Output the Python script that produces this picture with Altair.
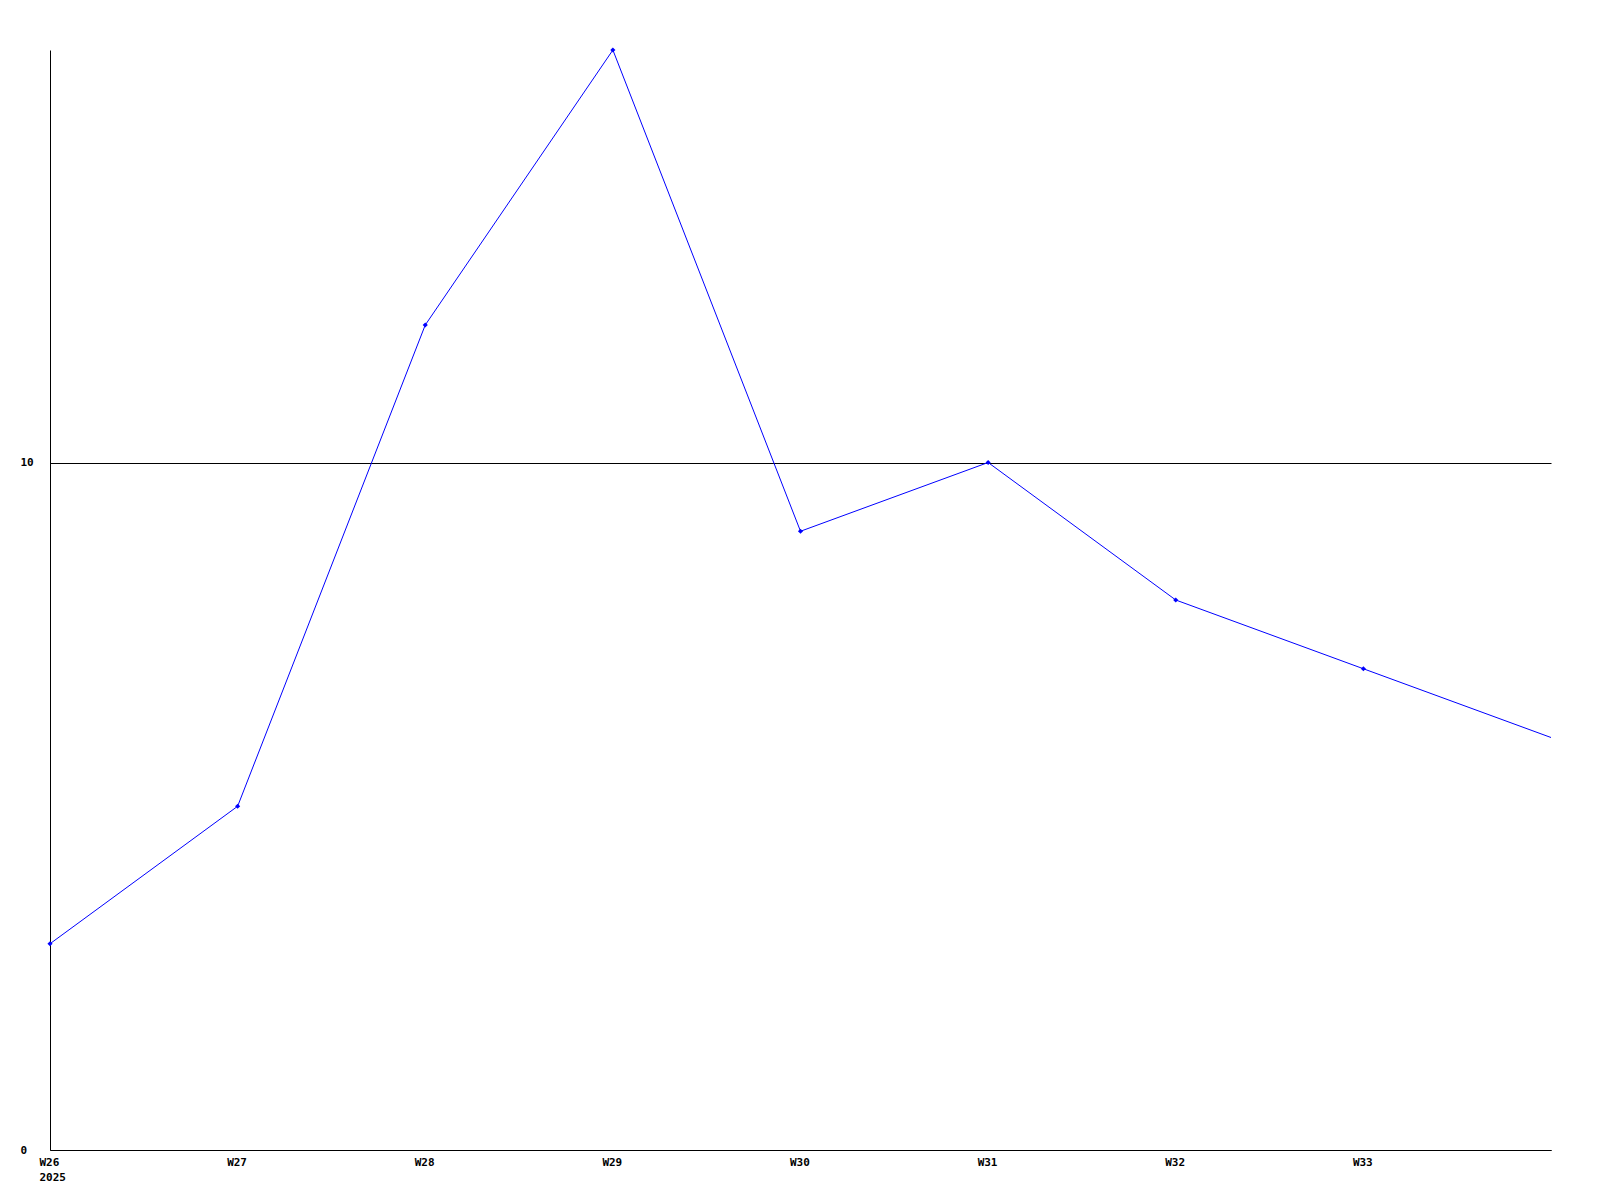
import altair as alt
import pandas as pd

weeks = [26, 27, 28, 29, 30, 31, 32, 33, 34]
values = [3, 5, 12, 16, 9, 10, 8, 7, 6]
tick_weeks = [26, 27, 28, 29, 30, 31, 32, 33]
year_label = "2025"

df = pd.DataFrame({"week": weeks, "value": values})

font = "DejaVu Sans Mono"

x = alt.X("week:Q", scale=alt.Scale(domain=[26, 34], nice=False, zero=False),
          axis=alt.Axis(values=tick_weeks, grid=False, ticks=False, title=None,
                        labelExpr=f"datum.value == 26 ? ['W26', '{year_label}'] : 'W' + datum.value",
                        labelAlign="left", labelOffset=-11, labelPadding=6, labelBaseline="top",
                        labelFont=font, labelFontWeight="bold", labelFontSize=11, labelColor="black",
                        domainColor="black", domainWidth=1, labelFlush=False, labelOverlap=False,
                        labelLineHeight=15))
y = alt.Y("value:Q", scale=alt.Scale(domain=[0, 16], nice=False),
          axis=alt.Axis(values=[0, 10], grid=True, gridColor="black", gridOpacity=1, gridWidth=1,
                        ticks=False, title=None, labelAlign="left", labelPadding=30,
                        labelFont=font, labelFontWeight="bold", labelFontSize=11, labelColor="black",
                        domainColor="black", domainWidth=1, labelFlush=False))

line = alt.Chart(df).mark_line(color="#0000ff", strokeWidth=1).encode(x=x, y=y)
pts = alt.Chart(df).transform_filter("datum.week < 34").mark_point(
    shape="diamond", filled=True, color="#0000ff", size=26, opacity=1).encode(x=x, y=y)

chart = alt.layer(line, pts).properties(
    width=1501, height=1100,
    background="white",
    autosize=alt.AutoSizeParams(type="none"),
    padding={"left": 42, "top": 42, "right": 20, "bottom": 40},
).configure_view(stroke="transparent", strokeWidth=0)

chart.save("out.html", embed_options={"renderer": "svg", "actions": False})
